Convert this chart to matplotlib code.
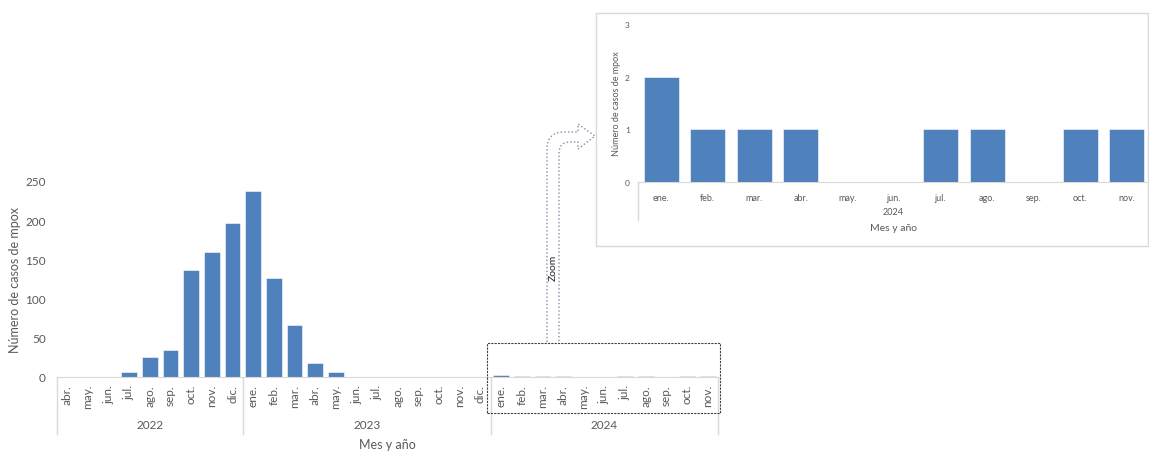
import numpy as np
import matplotlib.pyplot as plt
from matplotlib.patches import Rectangle, PathPatch
from matplotlib.path import Path
from matplotlib import transforms

plt.rcParams['font.family'] = ['Lato', 'DejaVu Sans']

# datos: casos de mpox por mes
meses_2022 = ['abr.', 'may.', 'jun.', 'jul.', 'ago.', 'sep.', 'oct.', 'nov.', 'dic.']
casos_2022 = [0, 0, 0, 6, 26, 35, 137, 159, 197]
meses_2023 = ['ene.', 'feb.', 'mar.', 'abr.', 'may.', 'jun.', 'jul.', 'ago.', 'sep.', 'oct.', 'nov.', 'dic.']
casos_2023 = [237, 126, 66, 18, 6, 0, 0, 0, 0, 0, 0, 0]
meses_2024 = ['ene.', 'feb.', 'mar.', 'abr.', 'may.', 'jun.', 'jul.', 'ago.', 'sep.', 'oct.', 'nov.']
casos_2024 = [2, 1, 1, 1, 0, 0, 1, 1, 0, 1, 1]
anios = ['2022', '2023', '2024']
main_yticks = [0, 50, 100, 150, 200, 250]
zoom_yticks = [0, 1, 2, 3]

W, H = 1149, 452
BLUE = '#4F81BD'
GRAY = '#595959'
LINE = '#D9D9D9'


def fx(x):
    return x / W


def fy(y):
    return 1 - y / H


fig = plt.figure(figsize=(W / 100, H / 100), dpi=100)

# ---- grafico principal ----
labels = meses_2022 + meses_2023 + meses_2024
values = casos_2022 + casos_2023 + casos_2024
n = len(labels)
ax = fig.add_axes([fx(57), fy(378), fx(718) - fx(57), fy(182) - fy(378)])
x = np.arange(n)
ax.bar(x, values, width=0.76, color=BLUE, edgecolor='white', linewidth=0.4)
ax.set_xlim(-0.5, n - 0.5)
ax.set_ylim(0, 250)
ax.set_yticks(main_yticks)
ax.set_xticks(x)
ax.set_xticklabels(labels, rotation=90, fontsize=8.5, color=GRAY)
ax.tick_params(axis='y', length=0, labelsize=8.5, labelcolor=GRAY, pad=8)
ax.tick_params(axis='x', length=0, pad=5)
for s in ['top', 'right', 'left']:
    ax.spines[s].set_visible(False)
ax.spines['bottom'].set_color(LINE)
ax.set_ylabel('Número de casos de mpox', fontsize=9, color=GRAY, labelpad=3)
ax.patch.set_alpha(0)

tr = transforms.blended_transform_factory(ax.transData, fig.transFigure)
sizes = [len(meses_2022), len(meses_2023), len(meses_2024)]
start = 0
for anio, sz in zip(anios, sizes):
    ax.plot([start - 0.5, start - 0.5], [fy(378), fy(435)], color=LINE, lw=1,
            transform=tr, clip_on=False)
    ax.text(start + (sz - 1) / 2, fy(426), anio, transform=tr, ha='center',
            va='center', fontsize=8.5, color=GRAY)
    start += sz
ax.plot([n - 0.5, n - 0.5], [fy(378), fy(435)], color=LINE, lw=1, transform=tr, clip_on=False)
fig.text(fx(387), fy(445), 'Mes y año', ha='center', va='center', fontsize=9, color=GRAY)

# recuadro de zoom
fig.patches.append(Rectangle((fx(487), fy(414)), fx(720) - fx(487), fy(344) - fy(414),
                             transform=fig.transFigure, fill=False, ec='#404040',
                             ls=(0, (2, 1)), lw=0.8))

# flecha
pts = [(547, 343), (547, 150), (547, 133), (564, 133), (578, 133), (578, 125),
       (595, 137), (578, 150), (578, 143), (570, 143), (559, 143), (559, 154), (559, 343)]
codes = [Path.MOVETO, Path.LINETO, Path.CURVE3, Path.CURVE3, Path.LINETO, Path.LINETO,
         Path.LINETO, Path.LINETO, Path.LINETO, Path.LINETO, Path.CURVE3, Path.CURVE3, Path.LINETO]
arrow = Path([(fx(a), fy(b)) for a, b in pts], codes)
fig.patches.append(PathPatch(arrow, transform=fig.transFigure, fill=False,
                             ec='#7F8FA6', ls=':', lw=1))
fig.text(fx(553), fy(268), 'Zoom', rotation=90, ha='center', va='center',
         fontsize=7.5, color='#262626')

# ---- grafico ampliado 2024 ----
fig.patches.append(Rectangle((fx(596), fy(247)), fx(1148) - fx(596), fy(14) - fy(247),
                             transform=fig.transFigure, fc='white', ec=LINE, lw=1, zorder=-5))
ax2 = fig.add_axes([fx(638), fy(183), fx(1150) - fx(638), fy(25) - fy(183)])
ax2.set_zorder(5)
x2 = np.arange(len(meses_2024))
ax2.bar(x2, casos_2024, width=0.75, color=BLUE, edgecolor='white', linewidth=0.4)
ax2.set_xlim(-0.5, len(meses_2024) - 0.5)
ax2.set_ylim(0, 3)
ax2.set_yticks(zoom_yticks)
ax2.set_xticks(x2)
ax2.set_xticklabels(meses_2024, fontsize=6.5, color=GRAY)
ax2.tick_params(axis='y', length=0, labelsize=6, labelcolor=GRAY, pad=6)
ax2.tick_params(axis='x', length=0, pad=8)
for s in ['top', 'right', 'left']:
    ax2.spines[s].set_visible(False)
ax2.spines['bottom'].set_color(LINE)
ax2.set_ylabel('Número de casos de mpox', fontsize=6.5, color=GRAY, labelpad=3)
ax2.patch.set_alpha(0)
ax2.plot([fx(638), fx(638)], [fy(183), fy(221)], color=LINE, lw=1,
         transform=fig.transFigure, clip_on=False)
fig.text(fx(893), fy(213), '2024', ha='center', va='center', fontsize=6.5, color=GRAY)
fig.text(fx(893), fy(229), 'Mes y año', ha='center', va='center', fontsize=7.5, color=GRAY)

fig.savefig('out.png', dpi=100)
